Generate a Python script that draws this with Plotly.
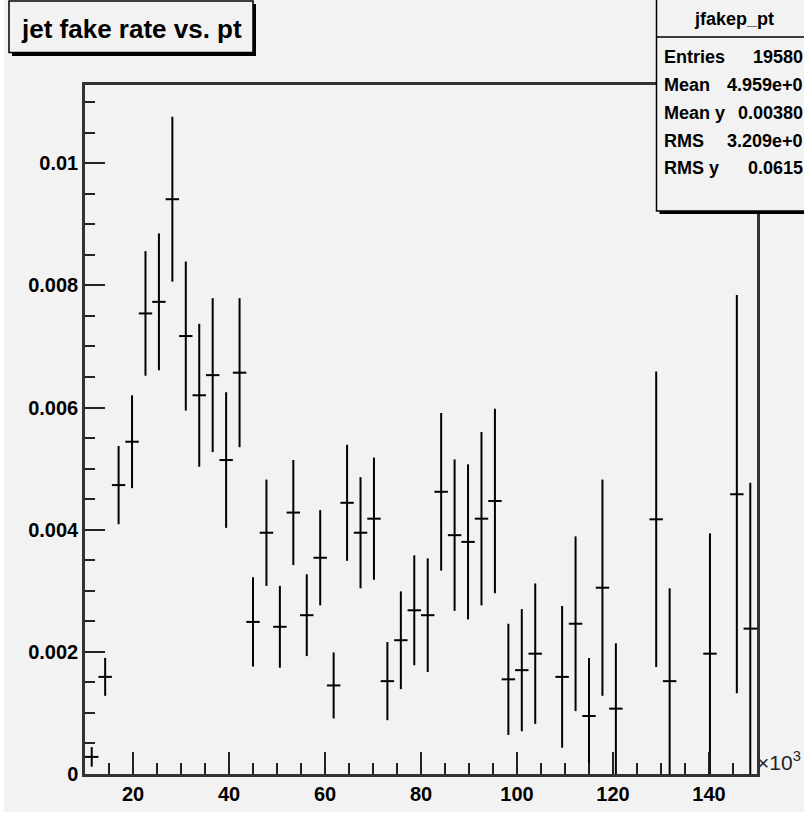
import plotly.graph_objects as go

# ---- data (x in units of 10^3) ----
bin_centers = [11.4, 14.2, 17.0, 19.8, 22.6, 25.4, 28.2, 31.0, 33.8, 36.6,
               39.4, 42.2, 45.0, 47.8, 50.6, 53.4, 56.2, 59.0, 61.8, 64.6,
               67.4, 70.2, 73.0, 75.8, 78.6, 81.4, 84.2, 87.0, 89.8, 92.6,
               95.4, 98.2, 101.0, 103.8, 109.4, 112.2, 115.0, 117.8, 120.6,
               129.0, 131.8, 140.2, 145.8, 148.6]
fake_rate = [0.00028, 0.00159, 0.00473, 0.00544, 0.00754, 0.00773, 0.00941, 0.00717, 0.00620, 0.00653,
             0.00514, 0.00657, 0.00249, 0.00395, 0.00241, 0.00428, 0.00260, 0.00354, 0.00145, 0.00444,
             0.00395, 0.00418, 0.00152, 0.00219, 0.00268, 0.00260, 0.00462, 0.00391, 0.00380, 0.00418,
             0.00447, 0.00155, 0.00170, 0.00197, 0.00159, 0.00246, 0.00095, 0.00305, 0.00107,
             0.00417, 0.00152, 0.00197, 0.00458, 0.00238]
fake_rate_err = [0.00016, 0.00031, 0.00064, 0.00076, 0.00102, 0.00112, 0.00135, 0.00122, 0.00117, 0.00126,
                 0.00111, 0.00122, 0.00073, 0.00087, 0.00067, 0.00086, 0.00067, 0.00078, 0.00054, 0.00095,
                 0.00091, 0.00100, 0.00064, 0.00080, 0.00090, 0.00093, 0.00129, 0.00124, 0.00127, 0.00142,
                 0.00151, 0.00091, 0.00100, 0.00115, 0.00116, 0.00143, 0.00095, 0.00177, 0.00107,
                 0.00242, 0.00152, 0.00197, 0.00326, 0.00239]
bin_half_width = [1.4] * len(bin_centers)

x_range = [10, 150]
y_range = [0, 0.01128]
x_tickvals = [20, 40, 60, 80, 100, 120, 140]
y_tickvals = [0, 0.002, 0.004, 0.006, 0.008, 0.01]
y_ticktext = ["0", "0.002", "0.004", "0.006", "0.008", "0.01"]

title_text = "jet fake rate vs. pt"
stats_name = "jfakep_pt"
stats_labels = ["Entries", "Mean", "Mean y", "RMS", "RMS y"]
stats_values = ["19580", "4.959e+0", "0.00380", "3.209e+0", "0.0615"]

# ---- layout geometry (pixels) ----
W, H = 804, 816
L, R, T, B = 85, 757, 85, 774
BG = "#f2f2f2"
FONT = "Liberation Sans, Arial, sans-serif"


def px(xp):
    return (xp - L) / (R - L)


def py(yp):
    return (B - yp) / (B - T)


fig = go.Figure()
fig.add_trace(go.Scatter(
    x=bin_centers, y=fake_rate, mode="markers",
    marker=dict(size=2, color="rgba(0,0,0,0)"),
    error_y=dict(type="data", array=fake_rate_err, color="black", thickness=2, width=0),
    error_x=dict(type="data", array=bin_half_width, color="black", thickness=2, width=0),
    showlegend=False, hoverinfo="skip",
))

shapes = []
# page background with thin white border on left/bottom
shapes.append(dict(type="rect", xref="paper", yref="paper", x0=px(4), x1=px(806),
                   y0=py(812), y1=py(-2), fillcolor=BG, line=dict(width=0), layer="below"))
# title box shadow + box
shapes.append(dict(type="rect", xref="paper", yref="paper", x0=px(12), x1=px(256),
                   y0=py(56), y1=py(4), fillcolor="black", line=dict(width=0), layer="above"))
shapes.append(dict(type="rect", xref="paper", yref="paper", x0=px(9), x1=px(253),
                   y0=py(52.5), y1=py(1), fillcolor=BG, line=dict(color="black", width=1.5), layer="above"))
# stats box shadow + box
shapes.append(dict(type="rect", xref="paper", yref="paper", x0=px(659.5), x1=px(812),
                   y0=py(214), y1=py(3), fillcolor="black", line=dict(width=0), layer="above"))
shapes.append(dict(type="rect", xref="paper", yref="paper", x0=px(656.5), x1=px(810),
                   y0=py(211), y1=py(-2), fillcolor=BG, line=dict(color="black", width=1.5), layer="above"))
shapes.append(dict(type="line", xref="paper", yref="paper", x0=px(656.5), x1=px(806),
                   y0=py(37), y1=py(37), line=dict(color="black", width=1.5), layer="above"))

annotations = []
annotations.append(dict(text=title_text, xref="paper", yref="paper", x=px(19), y=py(29),
                        xanchor="left", yanchor="middle", showarrow=False,
                        font=dict(family=FONT, size=26, color="black", weight="bold")))
annotations.append(dict(text=stats_name, xref="paper", yref="paper", x=px(734), y=py(19),
                        xanchor="center", yanchor="middle", showarrow=False,
                        font=dict(family=FONT, size=18, color="black", weight="bold")))
row_y = [57, 85, 113, 141, 168]
for lab, val, yy in zip(stats_labels, stats_values, row_y):
    annotations.append(dict(text=lab, xref="paper", yref="paper", x=px(662), y=py(yy),
                            xanchor="left", yanchor="middle", showarrow=False,
                            font=dict(family=FONT, size=18, color="black", weight="bold")))
    annotations.append(dict(text=val, xref="paper", yref="paper", x=px(805), y=py(yy),
                            xanchor="right", yanchor="middle", showarrow=False,
                            font=dict(family=FONT, size=18, color="black", weight="bold")))
annotations.append(dict(text="×10<sup>3</sup>", xref="paper", yref="paper", x=px(756), y=py(761),
                        xanchor="left", yanchor="middle", showarrow=False, borderpad=0,
                        font=dict(family=FONT, size=21, color="#222222")))

fig.update_layout(
    width=W, height=H,
    margin=dict(l=L, r=W - R, t=T, b=H - B, pad=0),
    paper_bgcolor="white", plot_bgcolor=BG,
    shapes=shapes, annotations=annotations,
    font=dict(family=FONT, color="black"),
    xaxis=dict(range=x_range, tickvals=x_tickvals, ticks="inside", ticklen=22, tickwidth=2,
               tickcolor="#222", showline=True, linewidth=2.5, linecolor="#333", mirror=True,
               showgrid=False, zeroline=False,
               minor=dict(ticks="inside", ticklen=11, tickwidth=2, tickcolor="#222", dtick=5, tick0=0),
               tickfont=dict(family=FONT, size=20, color="black", weight="bold")),
    yaxis=dict(range=y_range, tickvals=y_tickvals, ticktext=y_ticktext, ticks="inside", ticklen=20,
               tickwidth=2, tickcolor="#222", showline=True, linewidth=2.5, linecolor="#333",
               mirror=True, showgrid=False, zeroline=False,
               minor=dict(ticks="inside", ticklen=10, tickwidth=2, tickcolor="#222", dtick=0.0005, tick0=0),
               tickfont=dict(family=FONT, size=20, color="black", weight="bold")),
)

fig.write_html("out.html", config={"displayModeBar": False},
               post_script="document.body.style.margin='0';document.body.style.overflow='hidden';")
